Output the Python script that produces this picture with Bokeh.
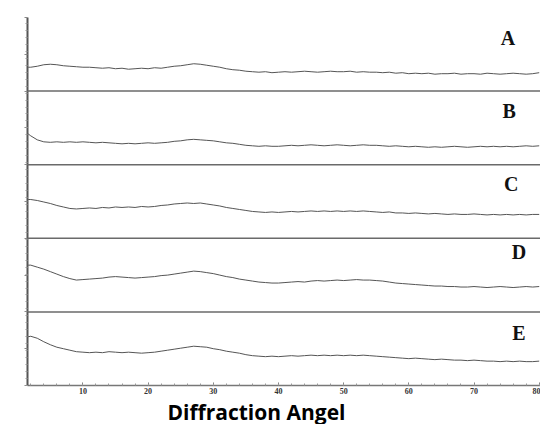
from bokeh.plotting import figure
from bokeh.models import Span, FixedTicker, Title, ColumnDataSource, Label
from bokeh.embed import file_html
from bokeh.resources import INLINE

# Diffraction angle (2-theta) grid
angles = [1.6] + list(range(2, 81))

# Intensities (arbitrary units, relative to each panel's baseline)
A = [24, 24, 25, 26.5, 27, 26.5, 25.5, 25, 24.5, 24, 24, 23.5, 23, 23.5, 22.5, 23, 22, 22.5, 23, 22.5,
     23.5, 23, 24, 25, 25.5, 26.5, 27.5, 27, 26, 25, 24, 22.5, 21.5, 21, 20, 19.5, 19, 19.5, 18.5, 19,
     19.5, 19, 19.5, 20, 19.5, 19, 19.5, 20, 19.5, 19.5, 20, 19, 19.5, 19, 19, 18.5, 19, 18, 18.5, 17.5,
     18, 17.5, 18, 17, 17.5, 17.5, 18, 17, 17.5, 17.5, 17, 18, 17.5, 17, 17.5, 18, 17.5, 17, 17.5, 18.5]
B = [31, 29, 25, 23, 22.5, 23, 22.5, 23, 22.5, 23, 22.5, 22, 22.5, 22, 21.5, 21, 21.5, 21, 21.5, 22,
     21.5, 22, 22.5, 23.5, 24, 25, 25.5, 25, 24.5, 24, 23, 22, 21.5, 20.5, 19.5, 19, 18.5, 19, 18.5, 18.5,
     19, 19.5, 19, 19.5, 20, 19.5, 19, 19.5, 20, 19.5, 19, 19.5, 20, 19.5, 19.5, 19, 18.5, 19, 18.5, 18,
     18.5, 18, 17.5, 18, 17.5, 18, 18.5, 18, 17.5, 18, 18.5, 18, 18.5, 18, 18.5, 18, 18.5, 19, 18.5, 19]
C = [39, 39, 38, 36.5, 35, 33, 31.5, 30, 29.5, 30, 30.5, 30, 31, 30.5, 31.5, 31, 31.5, 31, 32, 31.5,
     32, 33, 33.5, 34.5, 35, 35.5, 35, 35.5, 34.5, 33.5, 32.5, 31, 30, 29, 28, 27, 26.5, 26, 26.5, 26,
     26.5, 27, 26.5, 27, 27.5, 27, 27.5, 27, 27.5, 27, 27.5, 27, 27.5, 27, 26.5, 26, 26.5, 25.5, 25.5, 25,
     25.5, 25, 24.5, 25, 24.5, 24, 24.5, 24, 24, 24.5, 24, 23.5, 24, 23.5, 24, 23.5, 24, 23.5, 24, 24]
D = [47, 47, 45, 43, 40.5, 38, 35.5, 33.5, 32, 32.5, 33, 33.5, 34, 35, 35.5, 35, 34.5, 34, 34.5, 35,
     35.5, 36.5, 37, 38, 39, 40, 41, 40.5, 39.5, 38.5, 37, 35.5, 34.5, 33, 32, 31, 30, 29.5, 29, 29,
     29.5, 30, 30.5, 30, 31, 31.5, 31, 31.5, 32, 31.5, 32, 32.5, 32, 32, 31.5, 31, 30, 29, 28.5, 28,
     27.5, 27, 26.5, 26, 26, 25.5, 25.5, 25, 25, 25.5, 25, 24.5, 25, 25.5, 25, 24.5, 25, 25.5, 25, 25.5]
E = [49, 49.5, 47.5, 44, 41, 38.5, 37, 35.5, 34, 33.5, 33, 33.5, 33, 34, 33.5, 33, 33.5, 33, 32.5, 33,
     33.5, 34.5, 35.5, 36.5, 37.5, 38.5, 39.5, 39, 38.5, 37, 36, 34.5, 33.5, 32.5, 31, 30, 29.5, 29, 29.5, 29,
     29.5, 30, 29.5, 30, 30.5, 30, 30.5, 30, 30.5, 30, 30.5, 30, 30.5, 30, 29.5, 29, 28.5, 28, 27.5, 27,
     27.5, 27, 26.5, 26, 26.5, 26, 25.5, 25.5, 25, 25.5, 25, 24.5, 24.5, 24, 24.5, 24, 24.5, 24, 24, 24.5]

labels = ["A", "B", "C", "D", "E"]
series = [A, B, C, D, E]
offsets = [296, 222, 148, 74, 0]       # baseline of each stacked panel
label_x = [75.2, 75.4, 75.7, 76.9, 76.9]
label_y = [349, 276, 203, 134, 53]
x_ticks = [10, 20, 30, 40, 50, 60, 70, 80]

p = figure(width=540, height=424, x_range=(1.5, 80.2), y_range=(0, 370),
           output_backend="svg", toolbar_location=None,
           min_border_left=27, min_border_right=0, min_border_top=17)
p.background_fill_color = "white"
p.border_fill_color = "white"
p.outline_line_color = None
p.xgrid.visible = False
p.ygrid.visible = False

for s, off in zip(series, offsets):
    src = ColumnDataSource(dict(x=angles, y=[v + off for v in s]))
    p.line("x", "y", source=src, line_color="#555555", line_width=1)

for off in offsets[:-1]:
    p.add_layout(Span(location=off, dimension="width", line_color="#6a6a6a", line_width=1.5))

for t, lx, ly in zip(labels, label_x, label_y):
    p.add_layout(Label(x=lx, y=ly, text=t, text_font="Liberation Serif", text_font_style="bold",
                       text_font_size="20px", text_align="center", text_baseline="middle",
                       text_color="#111111"))

# x axis
xa = p.xaxis[0]
xa.ticker = FixedTicker(ticks=x_ticks, minor_ticks=list(range(2, 81, 2)))
xa.axis_line_color = "#777777"
xa.axis_line_width = 1.5
xa.major_tick_in = 3
xa.major_tick_out = 0
xa.minor_tick_in = 2
xa.minor_tick_out = 0
xa.major_tick_line_color = "#777777"
xa.minor_tick_line_color = "#999999"
xa.major_label_text_font = "Liberation Serif"
xa.major_label_text_font_style = "bold"
xa.major_label_text_font_size = "8px"
xa.major_label_text_color = "#333333"
xa.major_label_standoff = 2

# y axis
ya = p.yaxis[0]
ya.ticker = FixedTicker(ticks=list(range(0, 371, 37)), minor_ticks=list(range(0, 371, 7)))
ya.axis_line_color = "#555555"
ya.axis_line_width = 2
ya.major_tick_in = 0
ya.major_tick_out = 3
ya.minor_tick_in = 0
ya.minor_tick_out = 2
ya.major_tick_line_color = "#888888"
ya.minor_tick_line_color = "#999999"
ya.major_label_text_color = None
ya.major_label_text_font_size = "1px"
ya.major_label_standoff = 0

p.add_layout(Title(text="Diffraction Angel", align="left", offset=140,
                   text_font="Open Sans", text_font_style="bold", text_font_size="21px",
                   text_color="#000000", standoff=-2), "below")

open("out.html", "w").write(file_html(p, INLINE))
